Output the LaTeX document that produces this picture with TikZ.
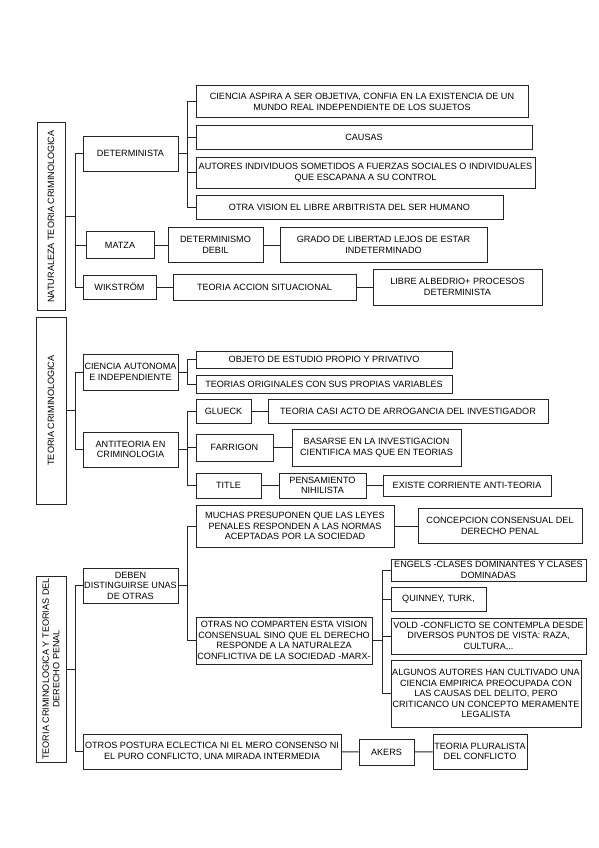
\documentclass[tikz,border=0pt]{standalone}
\usepackage{fontspec}
\setmainfont{Liberation Sans}
\usepackage{tikz}

\begin{document}
\begin{tikzpicture}[x=1pt, y=-1pt,
  box/.style={draw=black!85, line width=1pt, align=center, inner sep=0.5pt,
    font=\fontsize{9.1}{10.5}\selectfont},
  link/.style={draw=black!85, line width=1pt}]
  \useasboundingbox (0,0) rectangle (599,848);

  % Naturaleza teoria criminologica
  \node[box, rotate=90, minimum width=187pt, minimum height=28pt] (nat) at (51,216.5) {NATURALEZA TEORIA CRIMINOLOGICA};
  \node[box, minimum width=95pt, minimum height=35pt] (det) at (130.5,153.5) {DETERMINISTA};
  \node[box, minimum width=332pt, minimum height=32pt] (cien) at (362,102) {CIENCIA ASPIRA A SER OBJETIVA, CONFIA EN LA EXISTENCIA DE UN\\MUNDO REAL INDEPENDIENTE DE LOS SUJETOS};
  \node[box, minimum width=336pt, minimum height=23pt] (causas) at (364,137.5) {CAUSAS};
  \node[box, minimum width=339pt, minimum height=31pt] (autores) at (365.5,172.5) {AUTORES INDIVIDUOS SOMETIDOS A FUERZAS SOCIALES O INDIVIDUALES\\QUE ESCAPANA A SU CONTROL};
  \node[box, minimum width=307pt, minimum height=24pt] (otra) at (349.5,207) {OTRA VISION EL LIBRE ARBITRISTA DEL SER HUMANO};
  \node[box, minimum width=68pt, minimum height=27pt] (matza) at (120,245) {MATZA};
  \node[box, minimum width=95pt, minimum height=35pt] (detdeb) at (215.5,245) {DETERMINISMO\\DEBIL};
  \node[box, minimum width=207pt, minimum height=35pt] (grado) at (383.5,245) {GRADO DE LIBERTAD LEJOS DE ESTAR\\INDETERMINADO};
  \node[box, minimum width=73pt, minimum height=24pt] (wiks) at (119.5,287) {WIKSTRÖM};
  \node[box, minimum width=183pt, minimum height=26pt] (accion) at (264.5,287) {TEORIA ACCION SITUACIONAL};
  \node[box, minimum width=169pt, minimum height=36pt] (libre) at (457.5,287) {LIBRE ALBEDRIO+ PROCESOS\\DETERMINISTA};

  \draw[link] (nat.south) -- ++(10,0) |- (det.west);
  \draw[link] (nat.south) -- ++(10,0) |- (matza.west);
  \draw[link] (nat.south) -- ++(10,0) |- (wiks.west);
  \draw[link] (det.east) -- ++(9,0) |- (cien.west);
  \draw[link] (det.east) -- ++(9,0) |- (causas.west);
  \draw[link] (det.east) -- ++(9,0) |- (autores.west);
  \draw[link] (det.east) -- ++(9,0) |- (otra.west);
  \draw[link] (matza) -- (detdeb);
  \draw[link] (detdeb) -- (grado);
  \draw[link] (wiks) -- (accion);
  \draw[link] (accion) -- (libre);

  % Teoria criminologica
  \node[box, rotate=90, minimum width=187pt, minimum height=30pt] (teo) at (51,410.5) {TEORIA CRIMINOLOGICA};
  \node[box, minimum width=95pt, minimum height=36pt] (auto) at (130.5,372) {CIENCIA AUTONOMA\\E INDEPENDIENTE};
  \node[box, minimum width=256pt, minimum height=17pt] (objeto) at (324,359.5) {OBJETO DE ESTUDIO PROPIO Y PRIVATIVO};
  \node[box, minimum width=256pt, minimum height=18pt] (origin) at (324,384) {TEORIAS ORIGINALES CON SUS PROPIAS VARIABLES};
  \node[box, minimum width=95pt, minimum height=35pt] (anti) at (130.5,449.5) {ANTITEORIA EN\\CRIMINOLOGIA};
  \node[box, minimum width=55pt, minimum height=24pt] (glueck) at (223.5,411) {GLUECK};
  \node[box, minimum width=280pt, minimum height=24pt] (casi) at (408,411) {TEORIA CASI ACTO DE ARROGANCIA DEL INVESTIGADOR};
  \node[box, minimum width=77pt, minimum height=27pt] (farr) at (234.5,447.5) {FARRIGON};
  \node[box, minimum width=169pt, minimum height=37pt] (basar) at (376.5,447.5) {BASARSE EN LA INVESTIGACION\\CIENTIFICA MAS QUE EN TEORIAS};
  \node[box, minimum width=65pt, minimum height=25pt] (title) at (228.5,485.5) {TITLE};
  \node[box, minimum width=87pt, minimum height=25pt] (pens) at (322.5,485.5) {PENSAMIENTO\\NIHILISTA};
  \node[box, minimum width=168pt, minimum height=21pt] (existe) at (467,485.5) {EXISTE CORRIENTE ANTI-TEORIA};

  \draw[link] (teo.south) -- ++(9,0) |- (auto.west);
  \draw[link] (teo.south) -- ++(9,0) |- (anti.west);
  \draw[link] (auto.east) -- ++(9,0) |- (objeto.west);
  \draw[link] (auto.east) -- ++(9,0) |- (origin.west);
  \draw[link] (anti.east) -- ++(9,0) |- (glueck.west);
  \draw[link] (anti.east) -- ++(9,0) |- (farr.west);
  \draw[link] (anti.east) -- ++(9,0) |- (title.west);
  \draw[link] (glueck) -- (casi);
  \draw[link] (farr) -- (basar);
  \draw[link] (title) -- (pens);
  \draw[link] (pens) -- (existe);

  % Teoria criminologica y teorias del derecho penal
  \node[box, rotate=90, minimum width=186pt, minimum height=30pt] (pen) at (51,669) {TEORIA CRIMINOLOGICA Y TEORIAS DEL\\DERECHO PENAL};
  \node[box, minimum width=95pt, minimum height=35pt] (deben) at (130.5,585.5) {DEBEN\\DISTINGUIRSE UNAS\\DE OTRAS};
  \node[box, minimum width=198pt, minimum height=42pt] (muchas) at (295,526) {MUCHAS PRESUPONEN QUE LAS LEYES\\PENALES RESPONDEN A LAS NORMAS\\ACEPTADAS POR LA SOCIEDAD};
  \node[box, minimum width=164pt, minimum height=35pt] (concep) at (500,526) {CONCEPCION CONSENSUAL DEL\\DERECHO PENAL};
  \node[box, minimum width=176pt, minimum height=47pt] (otras) at (284,640.5) {OTRAS NO COMPARTEN ESTA VISION\\CONSENSUAL SINO QUE EL DERECHO\\RESPONDE A LA NATURALEZA\\CONFLICTIVA DE LA SOCIEDAD -MARX-};
  \node[box, minimum width=195pt, minimum height=22pt] (engels) at (488.5,570) {ENGELS -CLASES DOMINANTES Y CLASES\\DOMINADAS};
  \node[box, minimum width=95pt, minimum height=24pt] (quin) at (438.5,599) {QUINNEY, TURK,};
  \node[box, minimum width=195pt, minimum height=36pt] (vold) at (488.5,636) {VOLD -CONFLICTO SE CONTEMPLA DESDE\\DIVERSOS PUNTOS DE VISTA: RAZA,\\CULTURA,..};
  \node[box, minimum width=190pt, minimum height=67pt] (algunos) at (486,693.5) {ALGUNOS AUTORES HAN CULTIVADO UNA\\CIENCIA EMPIRICA PREOCUPADA CON\\LAS CAUSAS DEL DELITO, PERO\\CRITICANCO UN CONCEPTO MERAMENTE\\LEGALISTA};
  \node[box, minimum width=258pt, minimum height=35pt] (otros) at (212,751.5) {OTROS POSTURA ECLECTICA NI EL MERO CONSENSO NI\\EL PURO CONFLICTO, UNA MIRADA INTERMEDIA};
  \node[box, minimum width=55pt, minimum height=26pt] (akers) at (386.5,752) {AKERS};
  \node[box, minimum width=94pt, minimum height=35pt] (plural) at (480,751.5) {TEORIA PLURALISTA\\DEL CONFLICTO};

  \draw[link] (pen.south) -- ++(9,0) |- (deben.west);
  \draw[link] (pen.south) -- ++(9,0) |- (otros.west);
  \draw[link] (deben.east) -- ++(9,0) |- (muchas.west);
  \draw[link] (deben.east) -- ++(9,0) |- (otras.west);
  \draw[link] (muchas) -- (concep);
  \draw[link] (otras.east) -- ++(10,0) |- (engels.west);
  \draw[link] (otras.east) -- ++(10,0) |- (quin.west);
  \draw[link] (otras.east) -- ++(10,0) |- (vold.west);
  \draw[link] (otras.east) -- ++(10,0) |- (algunos.west);
  \draw[link] (otros) -- (akers);
  \draw[link] (akers) -- (plural);
\end{tikzpicture}
\end{document}
